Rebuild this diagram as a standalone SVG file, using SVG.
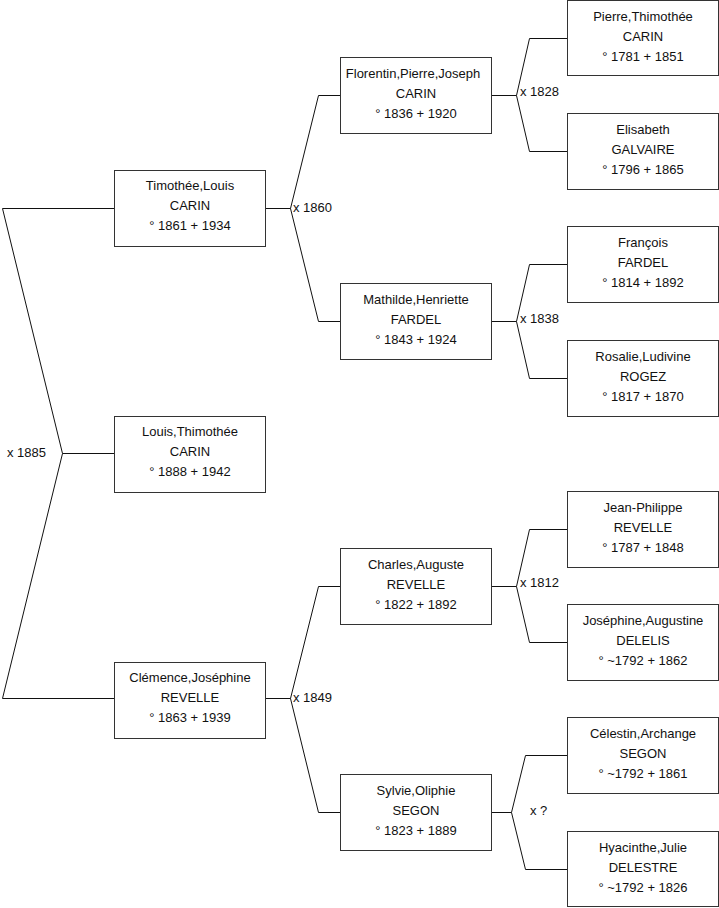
<svg xmlns="http://www.w3.org/2000/svg" width="719" height="908" viewBox="0 0 719 908">
<style>
.b{fill:#fff;stroke:#333;stroke-width:1}
.t{font-family:"Liberation Sans",Arial,sans-serif;font-size:13px;fill:#111;text-anchor:middle}
.l{font-family:"Liberation Sans",Arial,sans-serif;font-size:13px;fill:#111}
.c{fill:none;stroke:#111;stroke-width:1}
</style>
<rect width="719" height="908" fill="#fff"/>
<g id="connectors">
<polyline class="c" points="114,208.5 2.5,208.5 62.5,453.5 2.5,698.5 114,698.5"/>
<line class="c" x1="62.5" y1="453.5" x2="114" y2="453.5"/>
<polyline class="c" points="340,95.5 318.5,95.5 290.5,208.5 318.5,321.5 340,321.5"/>
<line class="c" x1="265" y1="208.5" x2="290.5" y2="208.5"/>
<polyline class="c" points="340,586.5 318.5,586.5 290.5,698.5 318.5,812.5 340,812.5"/>
<line class="c" x1="265" y1="698.5" x2="290.5" y2="698.5"/>
<polyline class="c" points="567,38.5 529.5,38.5 516.5,95.5 529.5,151.5 567,151.5"/>
<line class="c" x1="491" y1="95.5" x2="516.5" y2="95.5"/>
<polyline class="c" points="567,264.5 529.5,264.5 516.5,321.5 529.5,378.5 567,378.5"/>
<line class="c" x1="491" y1="321.5" x2="516.5" y2="321.5"/>
<polyline class="c" points="567,529.5 529.5,529.5 516.5,586.5 529.5,642.5 567,642.5"/>
<line class="c" x1="491" y1="586.5" x2="516.5" y2="586.5"/>
<polyline class="c" points="567,755.5 525.5,755.5 511.5,812.5 525.5,869.5 567,869.5"/>
<line class="c" x1="491" y1="812.5" x2="511.5" y2="812.5"/>
<text class="l" x="7" y="457">x 1885</text>
<text class="l" x="293" y="212">x 1860</text>
<text class="l" x="293" y="702">x 1849</text>
<text class="l" x="520" y="96">x 1828</text>
<text class="l" x="520" y="323">x 1838</text>
<text class="l" x="520" y="587">x 1812</text>
<text class="l" x="530" y="815">x ?</text>
</g>
<g id="n1"><rect class="b" x="114.5" y="170.5" width="151" height="76"/><text class="t" x="190" y="190">Timothée,Louis</text><text class="t" x="190" y="210">CARIN</text><text class="t" x="190" y="230">° 1861 + 1934</text></g>
<g id="n2"><rect class="b" x="114.5" y="416.5" width="151" height="76"/><text class="t" x="190" y="436">Louis,Thimothée</text><text class="t" x="190" y="456">CARIN</text><text class="t" x="190" y="476">° 1888 + 1942</text></g>
<g id="n3"><rect class="b" x="114.5" y="662.5" width="151" height="76"/><text class="t" x="190" y="682">Clémence,Joséphine</text><text class="t" x="190" y="702">REVELLE</text><text class="t" x="190" y="722">° 1863 + 1939</text></g>
<g id="n4"><rect class="b" x="340.5" y="57.5" width="151" height="76"/><text class="t" x="413" y="78">Florentin,Pierre,Joseph</text><text class="t" x="416" y="98">CARIN</text><text class="t" x="416" y="118">° 1836 + 1920</text></g>
<g id="n5"><rect class="b" x="340.5" y="283.5" width="151" height="76"/><text class="t" x="416" y="304">Mathilde,Henriette</text><text class="t" x="416" y="324">FARDEL</text><text class="t" x="416" y="344">° 1843 + 1924</text></g>
<g id="n6"><rect class="b" x="340.5" y="548.5" width="151" height="76"/><text class="t" x="416" y="569">Charles,Auguste</text><text class="t" x="416" y="589">REVELLE</text><text class="t" x="416" y="609">° 1822 + 1892</text></g>
<g id="n7"><rect class="b" x="340.5" y="774.5" width="151" height="76"/><text class="t" x="416" y="795">Sylvie,Oliphie</text><text class="t" x="416" y="815">SEGON</text><text class="t" x="416" y="835">° 1823 + 1889</text></g>
<g id="n8"><rect class="b" x="567.5" y="0.5" width="151" height="75"/><text class="t" x="643" y="21">Pierre,Thimothée</text><text class="t" x="643" y="41">CARIN</text><text class="t" x="643" y="61">° 1781 + 1851</text></g>
<g id="n9"><rect class="b" x="567.5" y="113.5" width="151" height="76"/><text class="t" x="643" y="134">Elisabeth</text><text class="t" x="643" y="154">GALVAIRE</text><text class="t" x="643" y="174">° 1796 + 1865</text></g>
<g id="n10"><rect class="b" x="567.5" y="226.5" width="151" height="76"/><text class="t" x="643" y="247">François</text><text class="t" x="643" y="267">FARDEL</text><text class="t" x="643" y="287">° 1814 + 1892</text></g>
<g id="n11"><rect class="b" x="567.5" y="340.5" width="151" height="76"/><text class="t" x="643" y="361">Rosalie,Ludivine</text><text class="t" x="643" y="381">ROGEZ</text><text class="t" x="643" y="401">° 1817 + 1870</text></g>
<g id="n12"><rect class="b" x="567.5" y="491.5" width="151" height="76"/><text class="t" x="643" y="512">Jean-Philippe</text><text class="t" x="643" y="532">REVELLE</text><text class="t" x="643" y="552">° 1787 + 1848</text></g>
<g id="n13"><rect class="b" x="567.5" y="604.5" width="151" height="76"/><text class="t" x="643" y="625">Joséphine,Augustine</text><text class="t" x="643" y="645">DELELIS</text><text class="t" x="643" y="665">° ~1792 + 1862</text></g>
<g id="n14"><rect class="b" x="567.5" y="717.5" width="151" height="76"/><text class="t" x="643" y="738">Célestin,Archange</text><text class="t" x="643" y="758">SEGON</text><text class="t" x="643" y="778">° ~1792 + 1861</text></g>
<g id="n15"><rect class="b" x="567.5" y="831.5" width="151" height="75"/><text class="t" x="643" y="852">Hyacinthe,Julie</text><text class="t" x="643" y="872">DELESTRE</text><text class="t" x="643" y="892">° ~1792 + 1826</text></g>
</svg>
